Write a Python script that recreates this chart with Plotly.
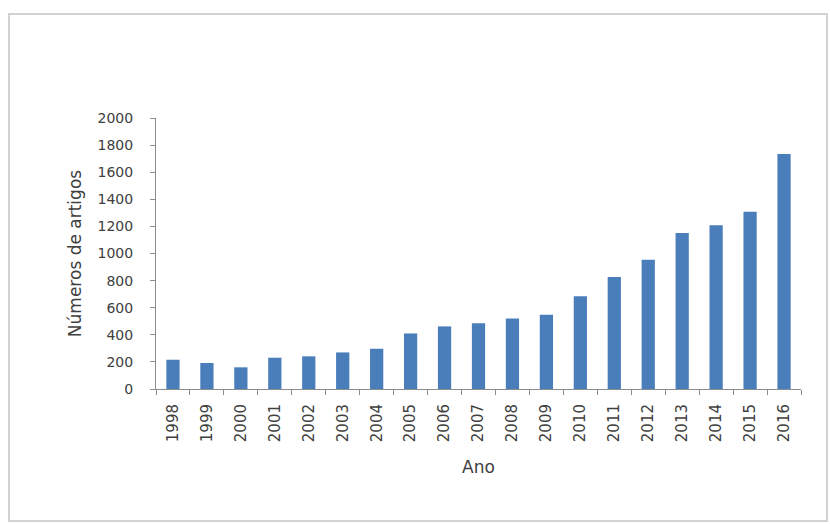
import plotly.graph_objects as go

# Number of articles published per year
anos = ["1998", "1999", "2000", "2001", "2002", "2003", "2004", "2005", "2006", "2007",
        "2008", "2009", "2010", "2011", "2012", "2013", "2014", "2015", "2016"]
artigos = [216, 192, 160, 231, 241, 270, 297, 410, 462, 485,
           521, 548, 684, 827, 954, 1151, 1208, 1309, 1734]
y_ticks = [0, 200, 400, 600, 800, 1000, 1200, 1400, 1600, 1800, 2000]

BAR_COLOR = "#4a7ebb"
AXIS_COLOR = "#8c8c8c"
TEXT_COLOR = "#404040"
FONT = "DejaVu Sans, Verdana, sans-serif"

L, R, T, B = 156, 29, 118, 135
W, H = 830, 524
PW, PH = W - L - R, H - T - B

fig = go.Figure(
    go.Bar(x=anos, y=artigos, marker=dict(color=BAR_COLOR, line=dict(width=0)))
)

fig.update_layout(
    width=W,
    height=H,
    margin=dict(l=L, r=R, t=T, b=B),
    paper_bgcolor="white",
    plot_bgcolor="white",
    bargap=0.61,
    showlegend=False,
    font=dict(family=FONT, color=TEXT_COLOR, size=15),
    shapes=[
        # outer chart frame
        dict(type="rect", xref="paper", yref="paper",
             x0=(9 - L) / PW, x1=(827 - L) / PW,
             y0=(H - B - 521) / PH, y1=(H - B - 14) / PH,
             line=dict(color="#d2d2d2", width=2), fillcolor="rgba(0,0,0,0)",
             layer="below"),
    ],
)

fig.update_xaxes(
    type="category",
    showline=True, linecolor=AXIS_COLOR, linewidth=1,
    ticks="outside", ticklen=5, tickcolor=AXIS_COLOR, tickson="boundaries",
    tickangle=-90,
    ticklabelstandoff=8,
    tickfont=dict(size=15, color=TEXT_COLOR),
    showgrid=False,
    title=dict(text="Ano", font=dict(size=17, color=TEXT_COLOR), standoff=19),
)

fig.update_yaxes(
    range=[0, 2000],
    tickvals=y_ticks,
    showline=True, linecolor=AXIS_COLOR, linewidth=1,
    ticks="outside", ticklen=5, tickcolor=AXIS_COLOR,
    ticklabelstandoff=14,
    tickfont=dict(size=14, color=TEXT_COLOR),
    showgrid=False, zeroline=False,
    title=dict(text="Números de artigos", font=dict(size=17, color=TEXT_COLOR), standoff=11),
)

fig.write_html("out.html")
